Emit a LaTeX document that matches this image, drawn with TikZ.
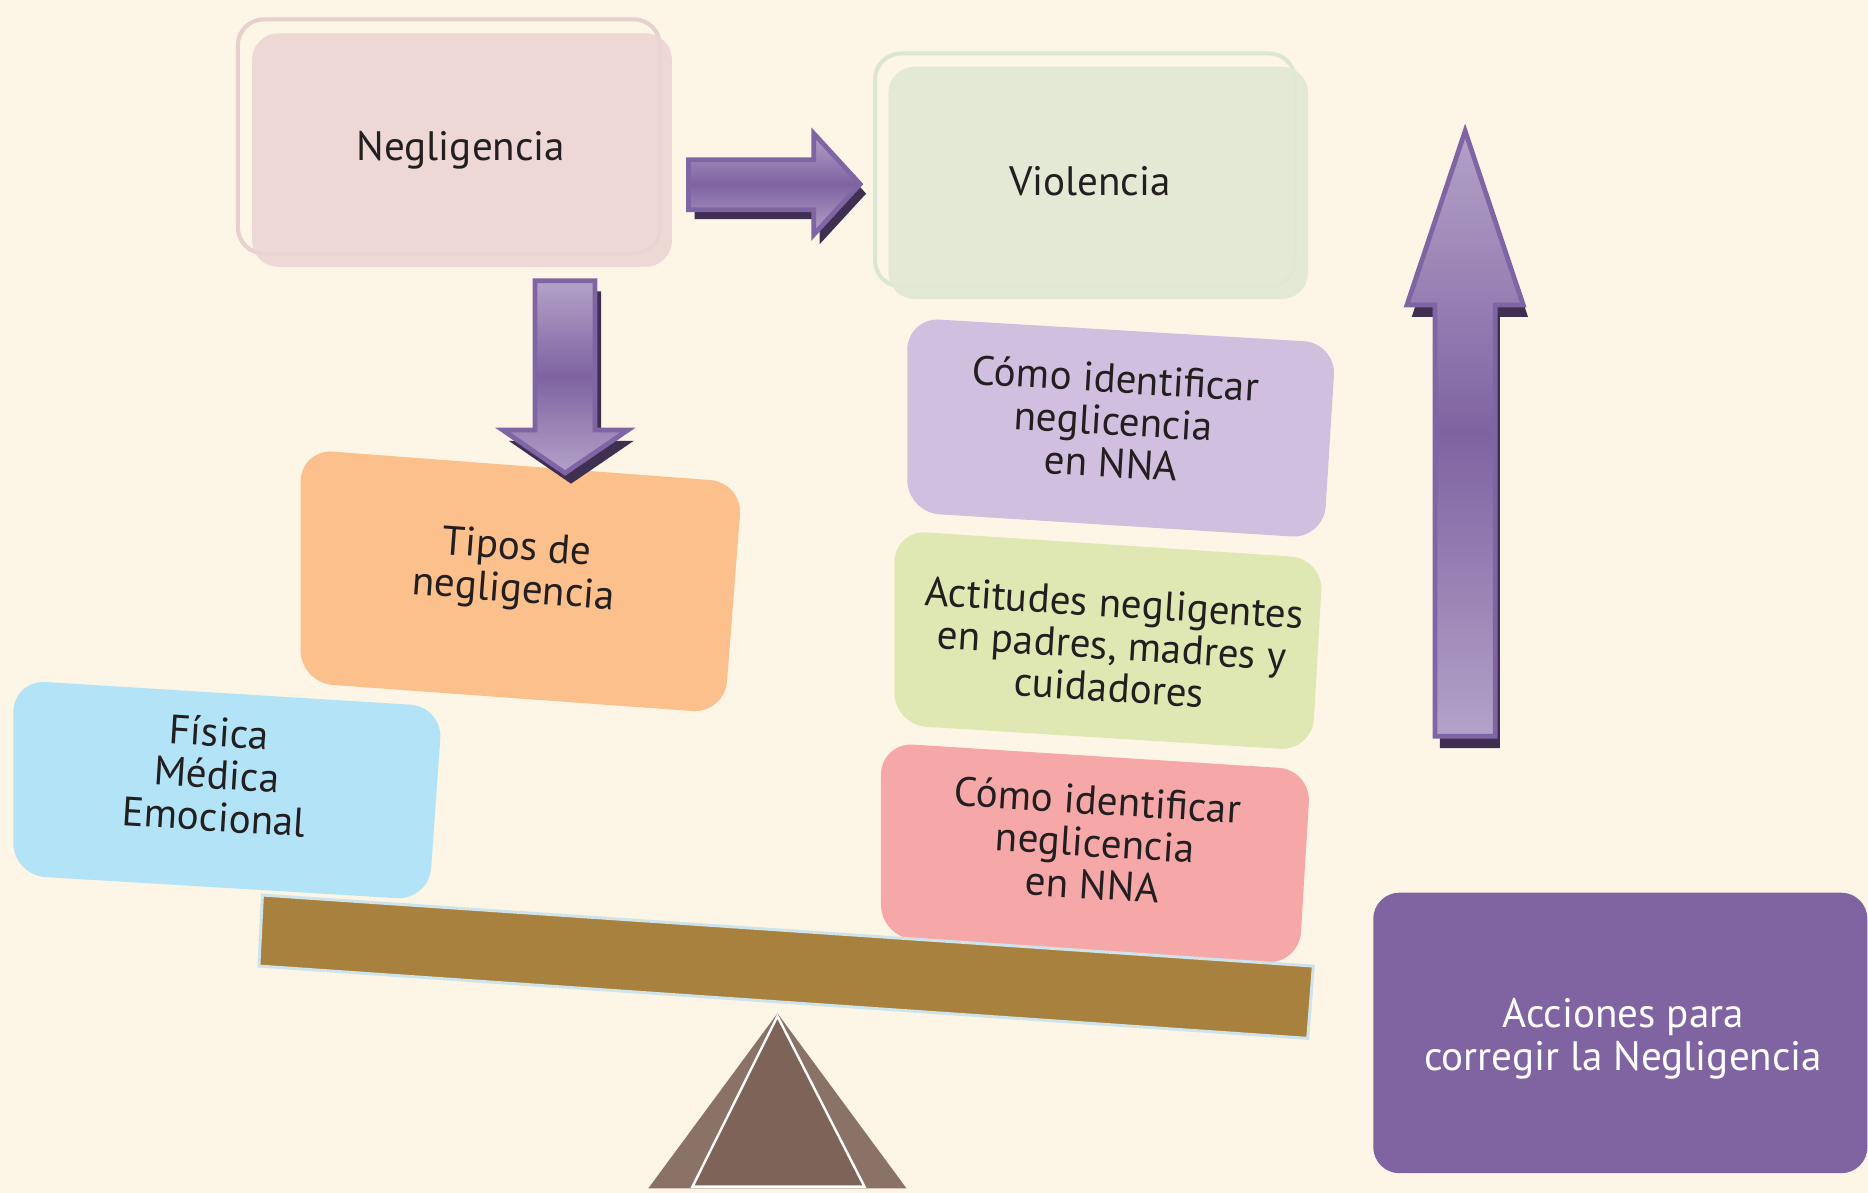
\documentclass[tikz,border=0pt]{standalone}
\usepackage{fontspec}
\setmainfont{PT Sans}
\definecolor{bgc}{HTML}{FDF5E6}
\definecolor{neglfill}{HTML}{EBD5D4}
\definecolor{neglline}{HTML}{E8D0CE}
\definecolor{violfill}{HTML}{E1E8D4}
\definecolor{violline}{HTML}{DCE6D4}
\definecolor{tiposfill}{HTML}{FBC08B}
\definecolor{fisfill}{HTML}{B3E3F6}
\definecolor{lilafill}{HTML}{D0BFDF}
\definecolor{verdefill}{HTML}{DFE8B3}
\definecolor{rosafill}{HTML}{F6A8A8}
\definecolor{accfill}{HTML}{8064A2}
\definecolor{beamfill}{HTML}{A8813F}
\definecolor{beamline}{HTML}{CFE3EA}
\definecolor{triout}{HTML}{8B7266}
\definecolor{triin}{HTML}{7E6358}
\definecolor{arrowline}{HTML}{7F65A3}
\definecolor{arrowlight}{HTML}{B3A2C8}
\definecolor{arrowdark}{HTML}{7F63A1}
\definecolor{arrowshadowc}{HTML}{3F3052}
\definecolor{textdark}{HTML}{231F20}
\begin{document}
\begin{tikzpicture}[x=1pt,y=-1pt,
  txt/.style={font=\fontsize{34.5}{35.5}\selectfont, text=textdark, align=center, inner sep=0pt},
  wtxt/.style={txt, text=white},
  arrowbody/.style={draw=arrowline, line width=4, line join=miter, top color=arrowlight, bottom color=arrowlight, middle color=arrowdark},
  arrowshade/.style={fill=arrowshadowc},
  backbox/.style={draw, line width=3.4, rounded corners=22},
  frontbox/.style={fill opacity=0.88, rounded corners=22},
  tiltbox/.style={rounded corners=27}
]
% background and bounding box
\fill[bgc] (0,0) rectangle (1568,1001);
\useasboundingbox (0,0) rectangle (1568,1001);

% Negligencia
\draw[backbox, draw=neglline] (199.6,16.2) rectangle (554,212.7);
\fill[frontbox, neglfill] (211.6,28) rectangle (564,224);
\node[txt] (negl) at (387,126) {Negligencia};

% Violencia
\draw[backbox, draw=violline] (734.5,44.8) rectangle (1087,240.6);
\fill[frontbox, violfill] (745.7,56) rectangle (1098,251);
\node[txt] (viol) at (915,152) {Violencia};

% Tipos
\fill[tiltbox, tiposfill] (252.4,377.1) -- (623.2,405.0) -- (608.2,598.8) -- (252.4,573.0) -- cycle;
\node[txt, rotate=-4.3] (tipos) at (432.3,479) {Tipos de\\negligencia};

% Fisica
\fill[tiltbox, fisfill] (11.2,570.8) -- (371.5,593.2) -- (360,755.5) -- (11.2,734.6) -- cycle;
\node[txt, rotate=-3.6] (fisica) at (181.9,650) {Física\\Médica\\Emocional};

% right column boxes
\fill[tiltbox, lilafill] (761.6,266.7) -- (1121.4,288.0) -- (1111.1,452.0) -- (761.6,430.0) -- cycle;
\node[txt, rotate=-3.4] (lila) at (934.6,353) {Cómo identificar\\neglicencia\\en NNA};

\fill[tiltbox, verdefill] (750.7,445.1) -- (1110.6,468.9) -- (1101.4,630.2) -- (750.7,608.4) -- cycle;
\node[txt, rotate=-3.6] (verde) at (933.2,541.4) {Actitudes negligentes\\en padres, madres y\\cuidadores};

\fill[tiltbox, rosafill] (739.5,623.3) -- (1100.3,646.2) -- (1090.4,809.4) -- (739.5,786.6) -- cycle;
\node[txt, rotate=-3.6] (rosa) at (919.2,707) {Cómo identificar\\neglicencia\\en NNA};

% Acciones
\fill[accfill, rounded corners=22] (1152.7,749.3) rectangle (1567.5,984.8);
\node[wtxt] (acc) at (1362.6,872) {Acciones para\\corregir la Negligencia};

% beam and fulcrum
\draw[line width=2.5, draw=beamline, fill=beamfill] (220.3,751.3) -- (1102.4,810.9) -- (1097.7,871.6) -- (217.3,810.9) -- cycle;
\fill[triout] (652.6,850.6) -- (760.9,997.5) -- (544.2,997.5) -- cycle;
\draw[line width=2, draw=white, fill=triin] (652.6,853) -- (725.6,996) -- (581.3,996) -- cycle;

% right arrow
\fill[arrowshade] ([shift={(5,8)}]578,134) -- ([shift={(5,8)}]683,134) -- ([shift={(5,8)}]683,112) -- ([shift={(5,8)}]722,154.5) -- ([shift={(5,8)}]683,197) -- ([shift={(5,8)}]683,176) -- ([shift={(5,8)}]578,176) -- cycle;
\path[arrowbody] (578,134) -- (683,134) -- (683,112) -- (722,154.5) -- (683,197) -- (683,176) -- (578,176) -- cycle;

% down arrow
\fill[arrowshade] ([shift={(5,9)}]449,235.6) -- ([shift={(5,9)}]499.5,235.6) -- ([shift={(5,9)}]499.5,361) -- ([shift={(5,9)}]527,361) -- ([shift={(5,9)}]474.3,397) -- ([shift={(5,9)}]422,361) -- ([shift={(5,9)}]449,361) -- cycle;
\path[arrowbody] (449,235.6) -- (499.5,235.6) -- (499.5,361) -- (527,361) -- (474.3,397) -- (422,361) -- (449,361) -- cycle;

% up arrow
\fill[arrowshade] ([shift={(4,10)}]1204.6,618) -- ([shift={(4,10)}]1204.6,256) -- ([shift={(4,10)}]1181,256) -- ([shift={(4,10)}]1229.8,110) -- ([shift={(4,10)}]1278.6,256) -- ([shift={(4,10)}]1255,256) -- ([shift={(4,10)}]1255,618) -- cycle;
\path[arrowbody] (1204.6,618) -- (1204.6,256) -- (1181,256) -- (1229.8,110) -- (1278.6,256) -- (1255,256) -- (1255,618) -- cycle;
\end{tikzpicture}
\end{document}
